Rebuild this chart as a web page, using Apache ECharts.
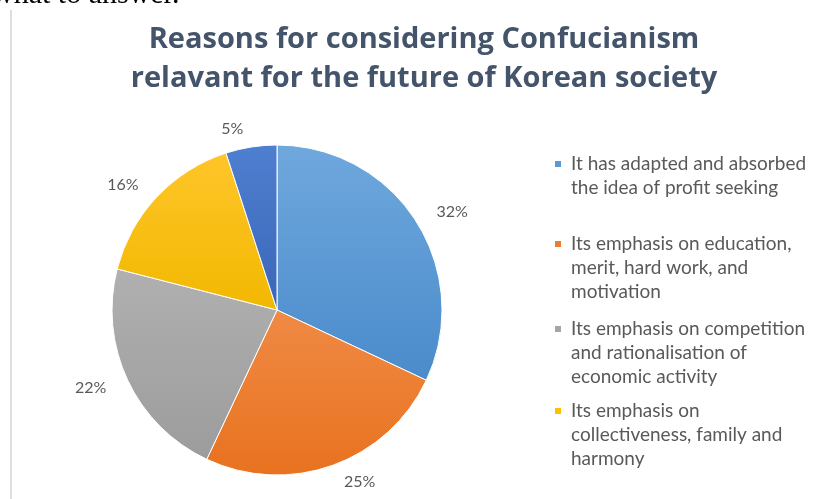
<!DOCTYPE html>
<html>
<head>
<meta charset="utf-8">
<script src="https://cdn.jsdelivr.net/npm/echarts@6/dist/echarts.min.js"></script>
<style>
  html, body { margin: 0; padding: 0; background: #fff; }
  #chart { width: 815px; height: 499px; }
</style>
</head>
<body>
<div id="chart"></div>
<script>
// slice data, clockwise from 12 o'clock
const reasons = [
    'It has adapted and absorbed the idea of profit seeking',
    'Its emphasis on education, merit, hard work, and motivation',
    'Its emphasis on competition and rationalisation of economic activity',
    'Its emphasis on collectiveness, family and harmony',
    'Other'
];
const shares = [32, 25, 22, 16, 5];
// legend wording as it wraps in the picture
const legendLines = [
    ['It has adapted and absorbed', 'the idea of profit seeking'],
    ['Its emphasis on education,', 'merit, hard work, and', 'motivation'],
    ['Its emphasis on competition', 'and rationalisation of', 'economic activity'],
    ['Its emphasis on', 'collectiveness, family and', 'harmony']
];
const legendFirstLineY = [163, 243, 328, 410];

const grad = (top, bottom) => new echarts.graphic.LinearGradient(0, 0, 0, 1, [
    {offset: 0, color: top}, {offset: 1, color: bottom}
]);
const sliceColors = [
    grad('#6fa8dd', '#4a8bcb'),
    grad('#f08a45', '#e8721f'),
    grad('#b0b0b0', '#9c9c9c'),
    grad('#ffc52a', '#f2b800'),
    grad('#4f7fd0', '#3a66b8')
];
const iconColors = ['#5b9bd5', '#ed7d31', '#a5a5a5', '#ffc000'];

const LH = 24;
const ICON_W = 12;
const chart = echarts.init(document.getElementById('chart'));

// icon box is as tall as the text block, square sits beside the first line
function topSquare(h) {
    let a = LH / 2 - 4, b = LH / 2 + 4;
    return `path://M0,0L0.01,0M${ICON_W},${h}L${ICON_W - 0.01},${h}M0,${a}L8,${a}L8,${b}L0,${b}Z`;
}

let legends = legendLines.map((lines, i) => {
    let h = lines.length * LH;
    return {
        show: true,
        orient: 'vertical',
        left: 553,
        top: legendFirstLineY[i] - LH / 2,
        padding: 0,
        itemWidth: ICON_W,
        itemHeight: h,
        itemGap: 0,
        icon: topSquare(h),
        selectedMode: false,
        data: [{name: reasons[i], itemStyle: {color: iconColors[i]}}],
        formatter: () => lines.join('\n'),
        textStyle: {
            fontFamily: 'Lato',
            fontSize: 19,
            color: '#595959',
            lineHeight: LH
        }
    };
});

let option = {
    backgroundColor: '#fff',
    animation: false,
    title: {
        text: 'Reasons for considering Confucianism\nrelavant for the future of Korean society',
        left: 419,
        textAlign: 'center',
        top: 15,
        textStyle: {
            fontFamily: 'Open Sans',
            fontWeight: 'bold',
            fontSize: 29,
            lineHeight: 39,
            color: '#44546a'
        }
    },
    legend: legends,
    graphic: [
        {
            type: 'line',
            shape: {x1: 11, y1: 10, x2: 11, y2: 499},
            style: {stroke: '#dedede', lineWidth: 2}
        },
        {
            type: 'text',
            left: -8,
            top: -20,
            style: {
                text: 'what to answer.',
                font: '30px "Liberation Serif"',
                fill: '#000'
            }
        }
    ],
    series: [{
        type: 'pie',
        center: [277, 310],
        radius: 165,
        startAngle: 90,
        clockwise: true,
        avoidLabelOverlap: false,
        data: shares.map((v, i) => ({
            name: reasons[i],
            value: v,
            itemStyle: {color: sliceColors[i]}
        })),
        itemStyle: {borderColor: '#fff', borderWidth: 1},
        label: {
            show: true,
            position: 'outside',
            formatter: '{c}%',
            fontFamily: 'Lato',
            fontSize: 16,
            color: '#595959'
        },
        labelLine: {show: false, length: 18, length2: 0},
        emphasis: {disabled: true}
    }]
};

chart.setOption(option);
</script>
</body>
</html>
